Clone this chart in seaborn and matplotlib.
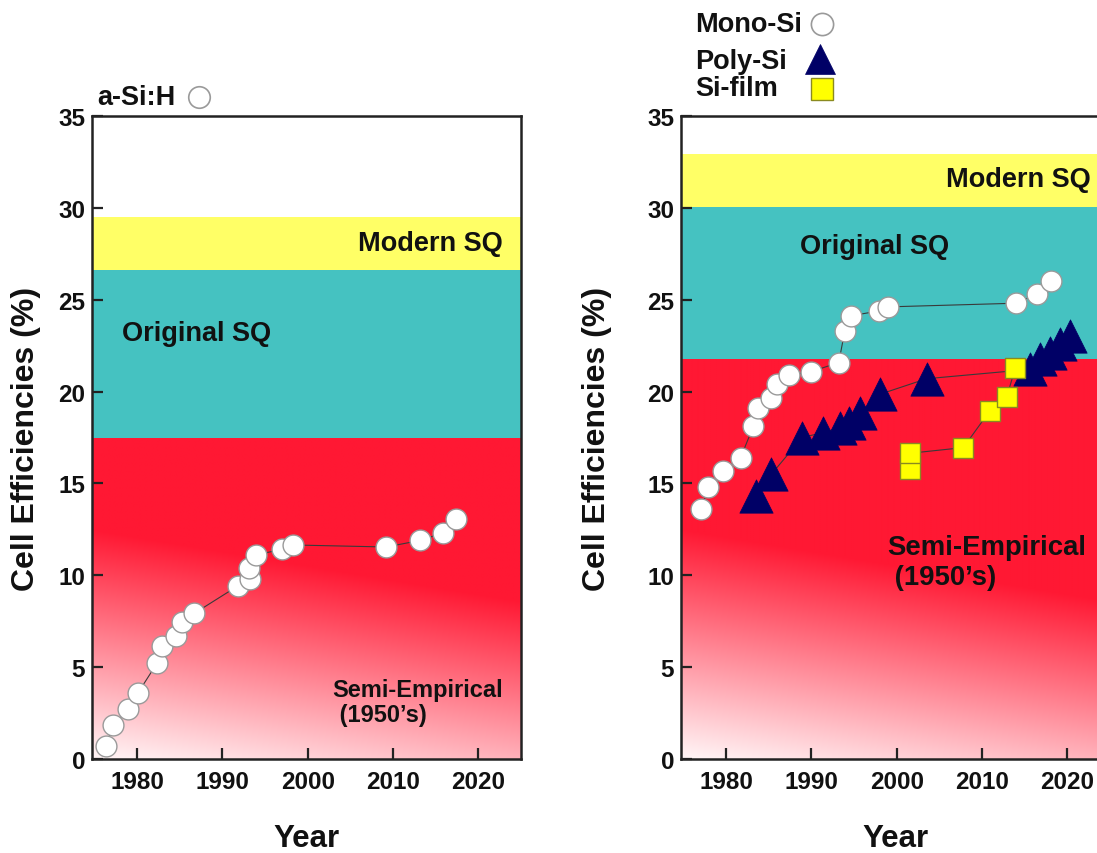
import numpy as np
import matplotlib
matplotlib.use("Agg")
import matplotlib.pyplot as plt
import seaborn as sns

# ---------------- data ----------------
asi_year = [1976.3, 1977.2, 1978.9, 1980.1, 1982.3, 1982.9, 1984.6, 1985.2, 1986.7,
            1991.8, 1993.2, 1993.1, 1993.9, 1997.0, 1998.3, 2009.2, 2013.2, 2015.8, 2017.4]
asi_eff = [0.71, 1.83, 2.7, 3.6, 5.2, 6.15, 6.7, 7.46, 7.93,
           9.42, 9.78, 10.42, 11.1, 11.42, 11.65, 11.54, 11.9, 12.3, 13.09]

mono_year = [1977.1, 1977.9, 1979.6, 1981.7, 1983.2, 1983.7, 1985.3, 1985.9, 1987.4,
             1990.0, 1993.2, 1993.9, 1994.6, 1997.9, 1999.0, 2014.0, 2016.4, 2018.1]
mono_eff = [13.63, 14.81, 15.65, 16.41, 18.13, 19.09, 19.64, 20.4, 20.89,
            21.09, 21.58, 23.3, 24.12, 24.39, 24.61, 24.81, 25.3, 26.02]

poly_year = [1983.5, 1985.3, 1988.9, 1991.4, 1993.3, 1994.4, 1995.7, 1998.0, 2003.5,
             2015.6, 2016.8, 2018.0, 2019.1, 2020.3]
poly_eff = [14.32, 15.5, 17.5, 17.77, 18.04, 18.31, 18.86, 19.85, 20.7,
            21.21, 21.76, 22.12, 22.57, 23.03]

film_year = [2001.5, 2001.5, 2007.8, 2010.9, 2012.9, 2013.9]
film_eff = [15.77, 16.64, 16.95, 18.94, 19.71, 21.3]

# band limits: [semi-empirical top, original SQ top, modern SQ top]
left_bands = [17.45, 26.6, 29.5]
right_bands = [21.75, 30.05, 32.95]

x_ticks = [1980, 1990, 2000, 2010, 2020]
y_ticks = [0, 5, 10, 15, 20, 25, 30, 35]
xlim = (1974.7, 2025.0)
ylim = (0, 35)

# ---------------- style ----------------
sns.set_theme(style="ticks")
plt.rcParams["font.family"] = ["Liberation Sans", "DejaVu Sans"]
plt.rcParams["font.weight"] = "bold"
plt.rcParams["axes.labelweight"] = "bold"

RED = np.array([255, 24, 51]) / 255.0
TEAL = "#45C2C1"
YELLOW = "#FFFF66"
SPINE = "#222222"
TXT = "#111111"

fig = plt.figure(figsize=(10.97, 8.54), dpi=100)
axL = fig.add_axes([92 / 1097, 94 / 854, 429 / 1097, 643 / 854])
axR = fig.add_axes([681 / 1097, 94 / 854, 429 / 1097, 643 / 854])


def background(ax, bands):
    top = bands[0]
    ny, nx = 200, 200
    ys = np.linspace(0, top, ny)
    xf = np.linspace(0, 1, nx)
    Y, X = np.meshgrid(ys, xf, indexing="ij")
    a = np.clip(0.04 + Y / 13.0 + 0.30 * X, 0, 1)
    img = np.ones((ny, nx, 3)) * (1 - a[..., None]) + RED[None, None, :] * a[..., None]
    ax.imshow(img, extent=[xlim[0], xlim[1], 0, top], origin="lower",
              aspect="auto", interpolation="bilinear", zorder=0)
    ax.axhspan(bands[0], bands[1], color=TEAL, lw=0, zorder=0)
    ax.axhspan(bands[1], bands[2], color=YELLOW, lw=0, zorder=0)


def style_axes(ax):
    ax.set_xlim(*xlim)
    ax.set_ylim(*ylim)
    ax.set_xticks(x_ticks)
    ax.set_yticks(y_ticks)
    ax.tick_params(axis="both", direction="in", length=8, width=1.6,
                   color=SPINE, labelsize=17.5, labelcolor=TXT)
    ax.tick_params(axis="x", pad=8)
    ax.tick_params(axis="y", pad=5)
    for lab in ax.get_xticklabels() + ax.get_yticklabels():
        lab.set_fontweight("bold")
    for s in ax.spines.values():
        s.set_color(SPINE)
        s.set_linewidth(1.8)
        s.set_visible(True)
    ax.set_xlabel("Year", fontsize=22.5, fontweight="bold", color=TXT)
    ax.set_ylabel("Cell Efficiencies (%)", fontsize=23, fontweight="bold",
                  color=TXT, va="center")
    ax.xaxis.set_label_coords(0.5, -0.100)


def series(ax, xs, ys, marker, size, face, edge, ew, z):
    sns.lineplot(x=xs, y=ys, sort=False, estimator=None, ax=ax,
                 color="#3a3a3a", lw=0.8, zorder=2)
    sns.scatterplot(x=xs, y=ys, marker=marker, s=size ** 2, color=face,
                    edgecolor=edge, linewidth=ew, ax=ax, zorder=z)


# ---------------- left panel ----------------
background(axL, left_bands)
series(axL, asi_year, asi_eff, "o", 15, "white", "#9a9a9a", 1.0, 3)
style_axes(axL)
axL.yaxis.set_label_coords(-0.154, 0.5)
axL.text(2014.4, 28.1, "Modern SQ", ha="center", va="center", fontsize=19.5,
         fontweight="bold", color=TXT, zorder=5)
axL.text(1987.0, 23.2, "Original SQ", ha="center", va="center", fontsize=19.5,
         fontweight="bold", color=TXT, zorder=5)
axL.text(2002.9, 3.08, "Semi-Empirical\n (1950\u2019s)", ha="left", va="center",
         fontsize=17, fontweight="bold", color=TXT, linespacing=1.12, zorder=5)

fig.text(97 / 1097, 1 - 98 / 854, "a-Si:H", ha="left", va="center", fontsize=19.5,
         fontweight="bold", color=TXT)
axL.plot([0.249], [1.0295], transform=axL.transAxes, clip_on=False, marker="o",
         ms=15.5, mfc="white", mec="#9a9a9a", mew=1.2, ls="none")

# ---------------- right panel ----------------
background(axR, right_bands)
series(axR, mono_year, mono_eff, "o", 15, "white", "#9a9a9a", 1.0, 3)
series(axR, poly_year, poly_eff, "^", 24, "#000066", "#000066", 0.5, 4)
series(axR, film_year, film_eff, "s", 14.5, "#FFFF00", "#8a8a20", 1.0, 5)
style_axes(axR)
axR.yaxis.set_label_coords(-0.196, 0.5)
axR.text(2014.2, 31.55, "Modern SQ", ha="center", va="center", fontsize=19.5,
         fontweight="bold", color=TXT, zorder=6)
axR.text(1997.4, 27.9, "Original SQ", ha="center", va="center", fontsize=19.5,
         fontweight="bold", color=TXT, zorder=6)
axR.text(1998.85, 10.7, "Semi-Empirical\n (1950\u2019s)", ha="left", va="center",
         fontsize=19.8, fontweight="bold", color=TXT, linespacing=1.2, zorder=6)

fig.text(695 / 1097, 1 - 25 / 854, "Mono-Si", ha="left", va="center", fontsize=19.5,
         fontweight="bold", color=TXT)
fig.text(695 / 1097, 1 - 62 / 854, "Poly-Si", ha="left", va="center", fontsize=19.5,
         fontweight="bold", color=TXT)
fig.text(695 / 1097, 1 - 89 / 854, "Si-film", ha="left", va="center", fontsize=19.5,
         fontweight="bold", color=TXT)
axR.plot([0.328], [1.143], transform=axR.transAxes, clip_on=False, marker="o",
         ms=16, mfc="white", mec="#9a9a9a", mew=1.2, ls="none")
axR.plot([0.324], [1.0886], transform=axR.transAxes, clip_on=False, marker="^",
         ms=21, mfc="#000066", mec="#000066", mew=0.5, ls="none")
axR.plot([0.328], [1.042], transform=axR.transAxes, clip_on=False, marker="s",
         ms=16, mfc="#FFFF00", mec="#8a8a20", mew=1.0, ls="none")

fig.savefig("out.png", dpi=100)
